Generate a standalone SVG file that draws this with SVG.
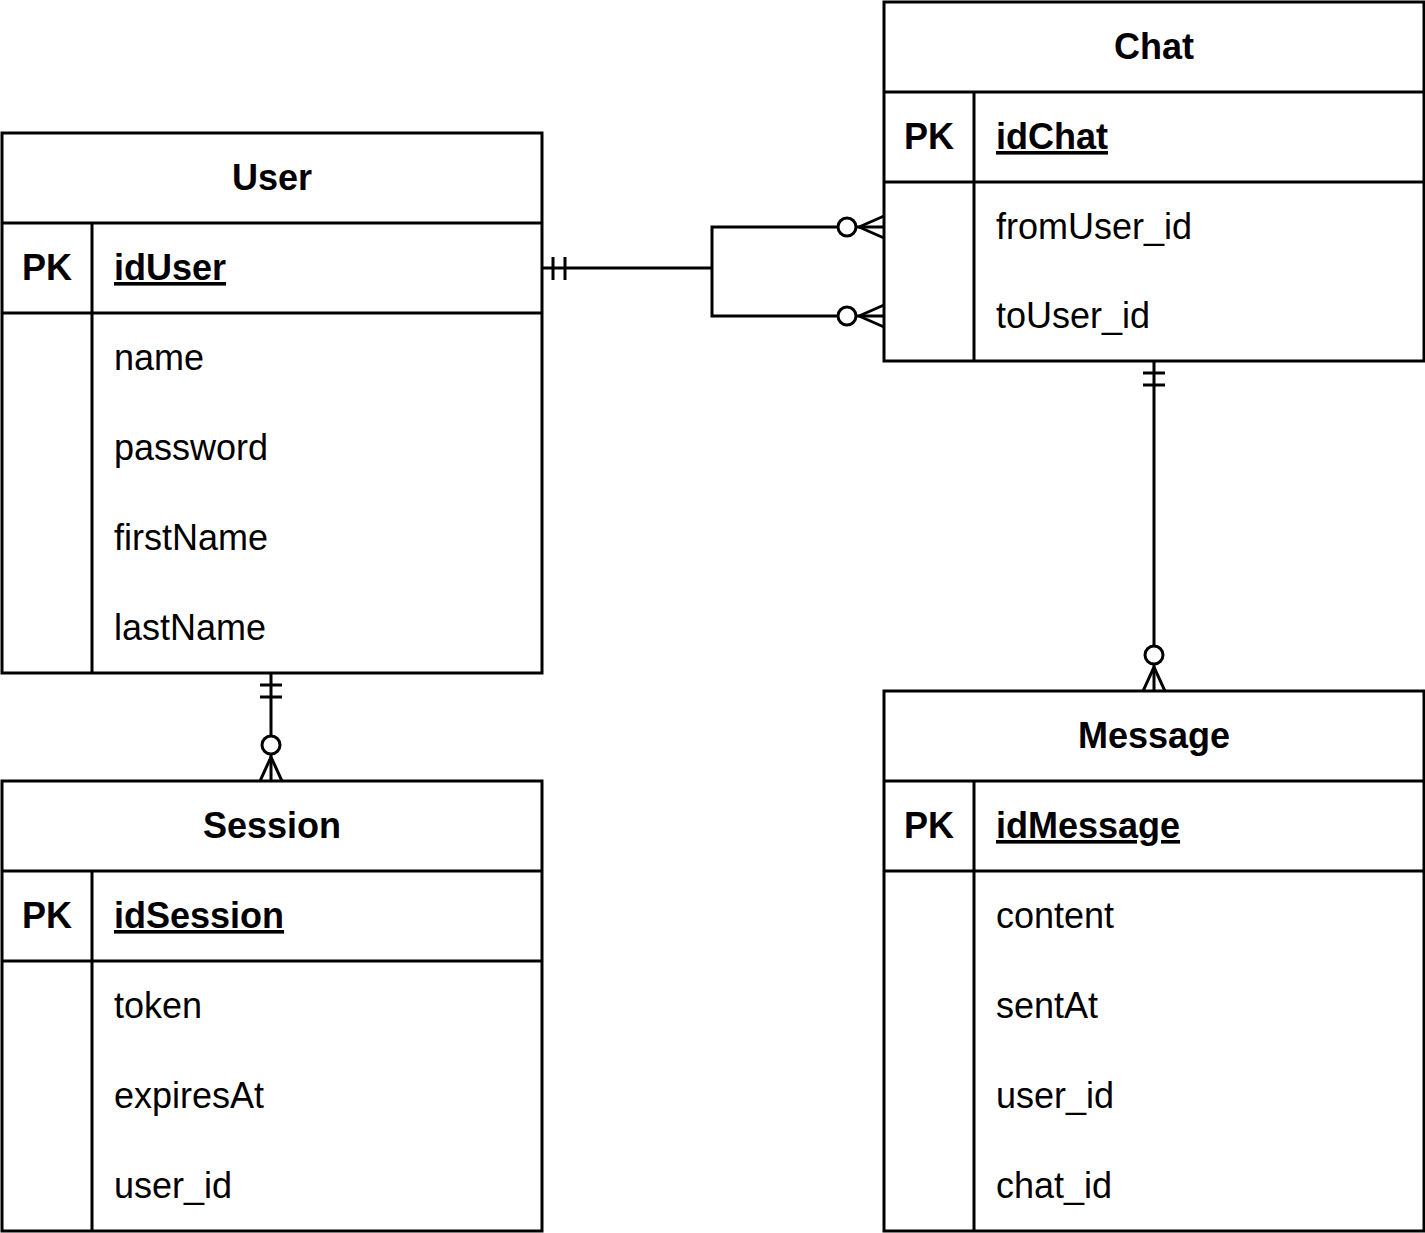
<svg xmlns="http://www.w3.org/2000/svg" width="1425" height="1233" viewBox="0 0 1425 1233">
<style>
.box{fill:#fff;stroke:#000;stroke-width:3}
.ln{stroke:#000;stroke-width:3;fill:none}
text{font-family:"Liberation Sans",Arial,Helvetica,sans-serif;font-size:36px;fill:#000}
.h{font-weight:bold;text-anchor:middle}
.pk{font-weight:bold;text-anchor:middle}
.key{font-weight:bold;text-decoration:underline}
.c{fill:#fff;stroke:#000;stroke-width:3}
</style>
<rect width="1425" height="1233" fill="#fff"/>
<g id="connectors">
<path class="ln" d="M542,268 H712 V227 H884 M712,268 V316 H884"/>
<path class="ln" d="M553,257 V280 M565,257 V280"/>
<path class="ln" d="M859,227 L884,216 M859,227 L884,238 M859,316 L884,305 M859,316 L884,327"/>
<circle class="c" cx="847" cy="227" r="9"/>
<circle class="c" cx="847" cy="316" r="9"/>
<path class="ln" d="M271,673 V781"/>
<path class="ln" d="M260,685 H282 M260,697 H282"/>
<path class="ln" d="M271,757 L260,781 M271,757 L282,781"/>
<circle class="c" cx="271" cy="745" r="9"/>
<path class="ln" d="M1154,361 V691"/>
<path class="ln" d="M1143,373 H1165 M1143,385 H1165"/>
<path class="ln" d="M1154,667 L1143,691 M1154,667 L1165,691"/>
<circle class="c" cx="1154" cy="655" r="9"/>
</g>
<g id="user">
<rect class="box" x="2" y="133" width="540" height="540"/>
<path class="ln" d="M2,223 H542 M2,313 H542 M92,223 V673"/>
<text class="h" x="272" y="190">User</text>
<text class="pk" x="47" y="280">PK</text>
<text class="key" x="114" y="280">idUser</text>
<text x="114" y="370">name</text>
<text x="114" y="460">password</text>
<text x="114" y="550">firstName</text>
<text x="114" y="640">lastName</text>
</g>
<g id="session">
<rect class="box" x="2" y="781" width="540" height="450"/>
<path class="ln" d="M2,871 H542 M2,961 H542 M92,871 V1231"/>
<text class="h" x="272" y="838">Session</text>
<text class="pk" x="47" y="928">PK</text>
<text class="key" x="114" y="928">idSession</text>
<text x="114" y="1018">token</text>
<text x="114" y="1108">expiresAt</text>
<text x="114" y="1198">user_id</text>
</g>
<g id="chat">
<rect class="box" x="884" y="2" width="540" height="359"/>
<path class="ln" d="M884,92 H1424 M884,182 H1424 M974,92 V361"/>
<text class="h" x="1154" y="59">Chat</text>
<text class="pk" x="929" y="149">PK</text>
<text class="key" x="996" y="149">idChat</text>
<text x="996" y="239">fromUser_id</text>
<text x="996" y="328">toUser_id</text>
</g>
<g id="message">
<rect class="box" x="884" y="691" width="540" height="540"/>
<path class="ln" d="M884,781 H1424 M884,871 H1424 M974,781 V1231"/>
<text class="h" x="1154" y="748">Message</text>
<text class="pk" x="929" y="838">PK</text>
<text class="key" x="996" y="838">idMessage</text>
<text x="996" y="928">content</text>
<text x="996" y="1018">sentAt</text>
<text x="996" y="1108">user_id</text>
<text x="996" y="1198">chat_id</text>
</g>
</svg>
